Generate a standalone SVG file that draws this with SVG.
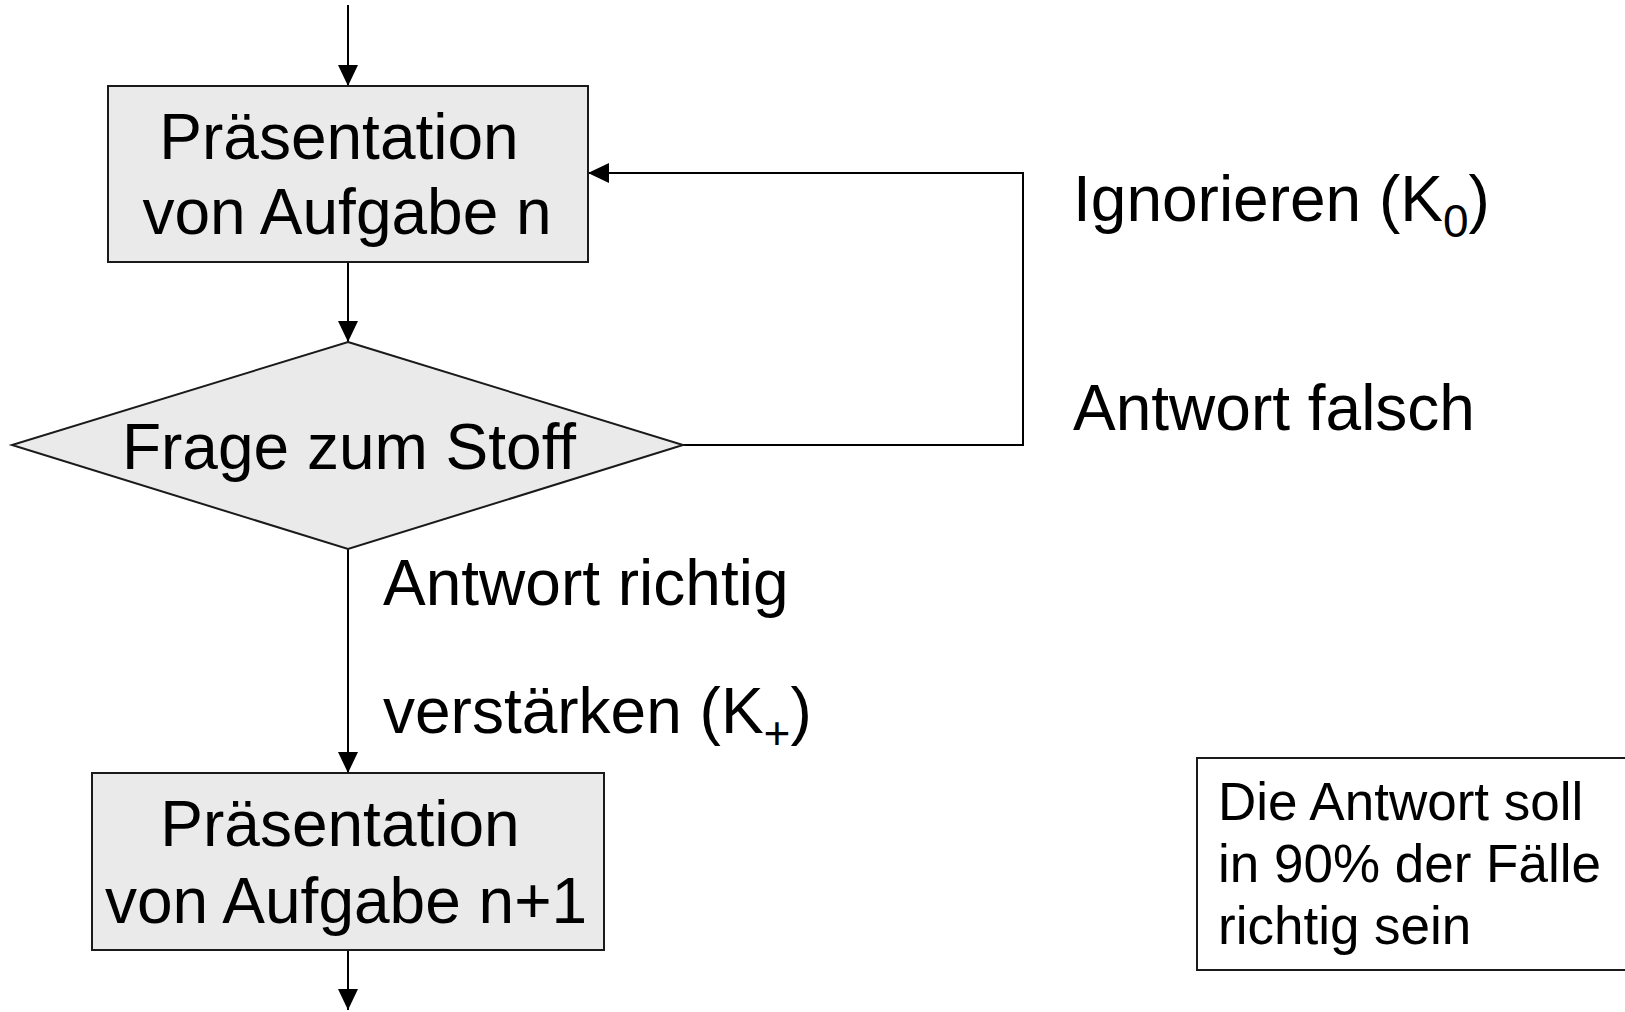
<svg xmlns="http://www.w3.org/2000/svg" width="1625" height="1012" viewBox="0 0 1625 1012">
<style>
.node{fill:#EAEAEA;stroke:#1a1a1a;stroke-width:2}
.note{fill:#FFFFFF;stroke:#1a1a1a;stroke-width:2}
.edge{fill:none;stroke:#000;stroke-width:2}
text{font-family:"Liberation Sans",Arial,sans-serif;fill:#000}
.t{font-size:64px}
.n{font-size:53px}
.sub{font-size:46px}
</style>
<defs>
<marker id="arr" markerUnits="userSpaceOnUse" markerWidth="21" markerHeight="20" viewBox="0 0 21 20" refX="21" refY="10" orient="auto">
<path d="M0,0 L21,10 L0,20 z" fill="#000"/>
</marker>
</defs>
<rect width="1625" height="1012" fill="#fff"/>
<g id="connectors">
<line class="edge" x1="348" y1="5" x2="348" y2="86" marker-end="url(#arr)"/>
<line class="edge" x1="348" y1="262" x2="348" y2="342" marker-end="url(#arr)"/>
<line class="edge" x1="348" y1="549" x2="348" y2="773" marker-end="url(#arr)"/>
<line class="edge" x1="348" y1="950" x2="348" y2="1010" marker-end="url(#arr)"/>
<polyline class="edge" points="683,445 1023,445 1023,173 588,173" marker-end="url(#arr)"/>
</g>
<g id="box1">
<rect class="node" x="108" y="86" width="480" height="176"/>
<text class="t" x="339" y="159" text-anchor="middle">Präsentation</text>
<text class="t" x="347" y="234" text-anchor="middle">von Aufgabe n</text>
</g>
<g id="decision">
<polygon class="node" points="348,342 683,445 348,549 12,445"/>
<text class="t" x="349" y="469" text-anchor="middle">Frage zum Stoff</text>
</g>
<g id="box2">
<rect class="node" x="92" y="773" width="512" height="177"/>
<text class="t" x="340" y="846" text-anchor="middle">Präsentation</text>
<text class="t" x="346" y="923" text-anchor="middle">von Aufgabe n+1</text>
</g>
<g id="labels">
<text class="t" x="1073" y="221">Ignorieren (K<tspan class="sub" dy="16">0</tspan><tspan dy="-16">)</tspan></text>
<text class="t" x="1073" y="430">Antwort falsch</text>
<text class="t" x="383" y="605">Antwort richtig</text>
<text class="t" x="383" y="733">verstärken (K<tspan class="sub" dy="16">+</tspan><tspan dy="-16">)</tspan></text>
</g>
<g id="note">
<rect class="note" x="1197" y="758" width="440" height="212"/>
<text class="n" x="1218" y="820">Die Antwort soll</text>
<text class="n" x="1218" y="882">in 90% der Fälle</text>
<text class="n" x="1218" y="944">richtig sein</text>
</g>
</svg>
